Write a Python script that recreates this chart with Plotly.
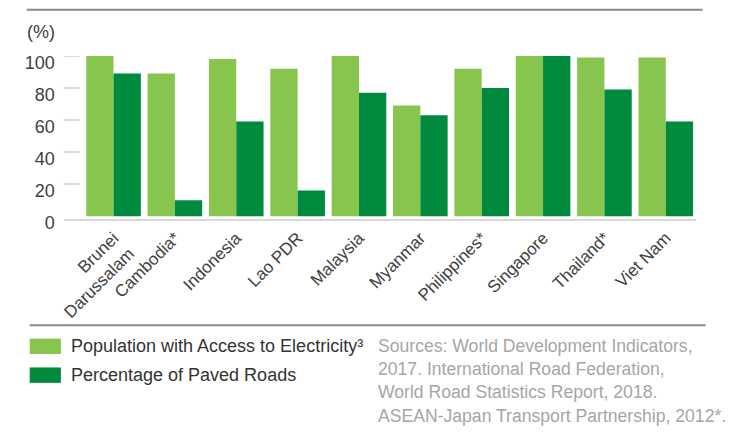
import plotly.graph_objects as go

W, H = 729, 443

countries = ["Brunei<br>Darussalam", "Cambodia*", "Indonesia", "Lao PDR", "Malaysia",
             "Myanmar", "Philippines*", "Singapore", "Thailand*", "Viet Nam"]
electricity = [100, 89, 98, 92, 100, 69, 92, 100, 99, 99]
paved_roads = [89, 10, 59, 16, 77, 63, 80, 100, 79, 59]
series_names = ["Population with Access to Electricity³", "Percentage of Paved Roads"]
y_ticks = [0, 20, 40, 60, 80, 100]
source_lines = ["Sources: World Development Indicators,",
                "2017. International Road Federation,",
                "World Road Statistics Report, 2018.",
                "ASEAN-Japan Transport Partnership, 2012*."]

LIGHT = "#88C54F"
DARK = "#008A3E"
TXT = "#404040"
FONT = "Liberation Sans, Arial, sans-serif"

def fx(px):
    return px / W

def fy(py):
    return 1 - py / H

fig = go.Figure()
fig.add_trace(go.Bar(x=list(range(len(countries))), y=electricity, name=series_names[0],
                     marker=dict(color=LIGHT, line=dict(width=0))))
fig.add_trace(go.Bar(x=list(range(len(countries))), y=paved_roads, name=series_names[1],
                     marker=dict(color=DARK, line=dict(width=0))))

fig.update_layout(
    width=W, height=H,
    margin=dict(l=0, r=0, t=0, b=0),
    paper_bgcolor="white", plot_bgcolor="white",
    barmode="group", bargap=0.11, bargroupgap=0,
    showlegend=False,
    font=dict(family=FONT, color=TXT),
    xaxis=dict(
        domain=[fx(47), fx(695)],
        range=[-0.81, 9.49],
        tickmode="array", tickvals=list(range(len(countries))), ticktext=countries,
        tickangle=-45, tickfont=dict(size=17, color=TXT),
        showline=True, linecolor="#D9D9D9", linewidth=2,
        showgrid=False, zeroline=False, ticks="",
    ),
    yaxis=dict(
        domain=[fy(225), fy(55)],
        range=[-2, 100],
        tickmode="array", tickvals=y_ticks,
        tickfont=dict(size=18, color=TXT),
        ticks="", ticklabelstandoff=8, ticklabelshift=7,
        showline=False, showgrid=False, zeroline=False,
    ),
)

shapes = [
    dict(type="line", xref="paper", yref="paper", x0=fx(9), x1=fx(702), y0=fy(7), y1=fy(7),
         line=dict(color="#888888", width=2)),
    dict(type="line", xref="paper", yref="paper", x0=fx(12), x1=fx(705), y0=fy(335), y1=fy(335),
         line=dict(color="#888888", width=2)),
    dict(type="rect", xref="paper", yref="paper", x0=fx(12), x1=fx(44), y0=fy(349), y1=fy(365),
         fillcolor=LIGHT, line=dict(width=0)),
    dict(type="rect", xref="paper", yref="paper", x0=fx(12), x1=fx(44), y0=fy(379), y1=fy(395),
         fillcolor=DARK, line=dict(width=0)),
]
# short tick marks at the left of the plot (no mark at 0, where the axis line is)
for v in y_ticks[1:]:
    shapes.append(dict(type="line", xref="x domain", yref="y", x0=0, x1=16 / 648, y0=v, y1=v,
                       line=dict(color="#D9D9D9", width=2), layer="below"))
fig.update_layout(shapes=shapes)

annotations = [
    dict(text="(%)", xref="paper", yref="paper", x=fx(8), y=fy(30), xanchor="left", yanchor="middle",
         showarrow=False, borderpad=0, font=dict(size=18, color=TXT)),
    dict(text=series_names[0], xref="paper", yref="paper", x=fx(53), y=fy(357), xanchor="left",
         yanchor="middle", showarrow=False, borderpad=0, font=dict(size=18, color="#333333")),
    dict(text=series_names[1], xref="paper", yref="paper", x=fx(53), y=fy(387), xanchor="left",
         yanchor="middle", showarrow=False, borderpad=0, font=dict(size=18, color="#333333")),
]
for i, line in enumerate(source_lines):
    annotations.append(dict(text=line, xref="paper", yref="paper", x=fx(368), y=fy(357 + 24 * i),
                            xanchor="left", yanchor="middle", showarrow=False, borderpad=0,
                            font=dict(size=17.6, color="#A6A6A6")))
fig.update_layout(annotations=annotations)

fig.write_html("out.html")
